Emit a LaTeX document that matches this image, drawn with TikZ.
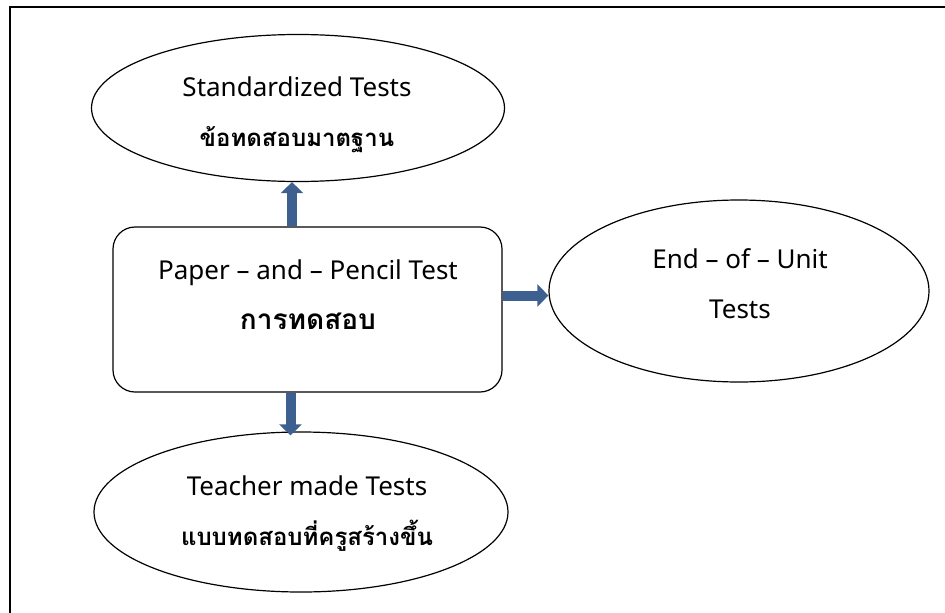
\documentclass[tikz,border=0pt]{standalone}
\usepackage{fontspec}
\setmainfont{Noto Sans}
\newfontfamily\thaifont[Script=Thai]{Loma}
\usetikzlibrary{shapes.geometric,arrows.meta}

\definecolor{arrowblue}{RGB}{62,96,145}

\begin{document}
\begin{tikzpicture}
		[
		x = 1pt, y = -1pt,
		oval/.style = {draw, ellipse, line width = 1.2pt, inner sep = 0pt},
		testbox/.style = {draw, rectangle, rounded corners = 22pt, line width = 1.2pt, inner sep = 0pt},
		txt/.style = {align = center, font = \fontsize{26}{50}\selectfont},
		blockarrow/.style = {draw = arrowblue, line width = 10pt, -{Triangle[length = 11pt, width = 22pt]}}
		]
		
		\useasboundingbox (0,0) rectangle (945,613);
		\draw[line width = 2pt] (10,613) -- (10,7) -- (945,7);
		
		% shapes
		\node[oval, minimum width = 413pt, minimum height = 147pt] (std) at (298,108) {};
		\node[testbox, minimum width = 389pt, minimum height = 165pt] (box) at (307.5,309.5) {};
		\node[oval, minimum width = 380pt, minimum height = 182pt] (unit) at (739,291) {};
		\node[oval, minimum width = 414pt, minimum height = 160pt] (teach) at (301,512) {};
		
		% texts
		\node[txt] (stdtxt) at (297,115) {Standardized Tests\\ {\thaifont\bfseries\fontsize{24}{50}\selectfont ข้อทดสอบมาตฐาน}};
		\node[txt] (boxtxt) at (308,295) {Paper -- and -- Pencil Test\\ {\thaifont\bfseries\fontsize{28}{50}\selectfont การทดสอบ}};
		\node[txt] (unittxt) at (740,284) {End -- of -- Unit\\ Tests};
		\node[txt] (teachtxt) at (307,514) {Teacher made Tests\\ {\thaifont\bfseries\fontsize{24}{50}\selectfont แบบทดสอบที่ครูสร้างขึ้น}};
		
		% arrows
		\draw[blockarrow] ([xshift = -15.5pt]box.north) -- ([xshift = -15.5pt]box.north |- std.south);
		\draw[blockarrow] ([yshift = 14pt]box.east) -- ([yshift = 14pt]box.east -| unit.west);
		\draw[blockarrow] ([xshift = -17pt]box.south) -- ([xshift = -17pt, yshift = -4pt]box.south |- teach.north);
		
\end{tikzpicture}
\end{document}
